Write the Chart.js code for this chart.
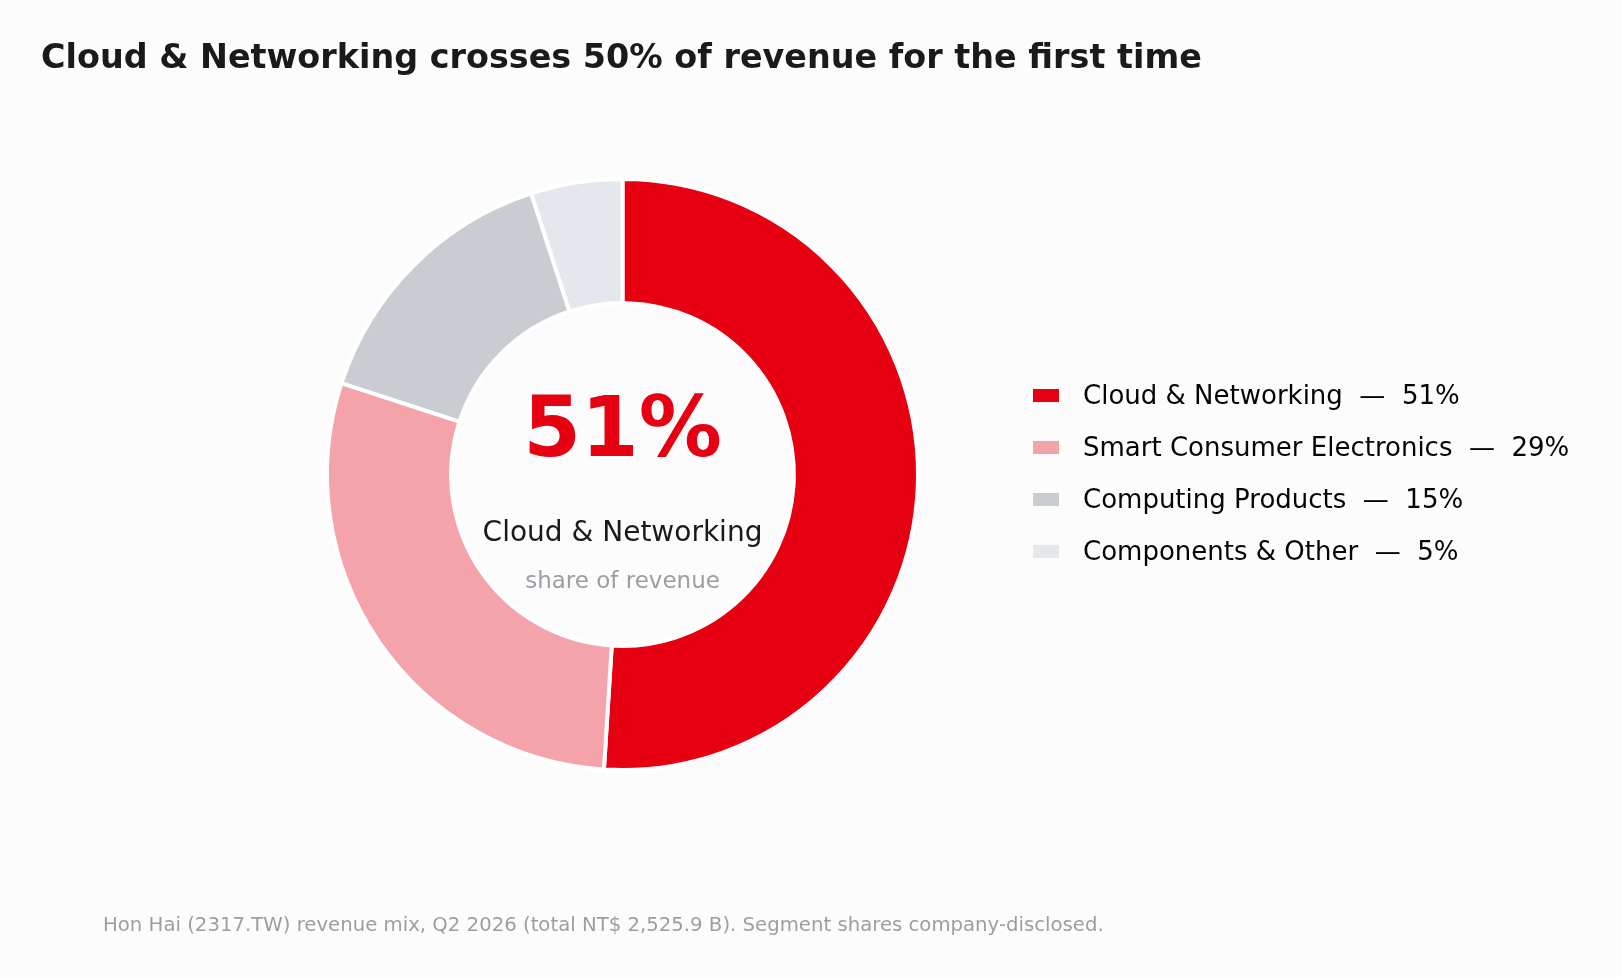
<!DOCTYPE html>
<html>
<head>
<meta charset="utf-8">
<script src="https://cdn.jsdelivr.net/npm/chart.js@4.4.1/dist/chart.umd.min.js"></script>
<style>
  html, body { margin: 0; padding: 0; background: #fcfcfc; }
  #wrap { position: relative; width: 1621px; height: 977px; }
</style>
</head>
<body>
<div id="wrap"><canvas id="mix"></canvas></div>
<script>
const segments = ["Cloud & Networking", "Smart Consumer Electronics", "Computing Products", "Components & Other"];
const shares = [51, 29, 15, 5];
const colors = ["#e60012", "#f5a3aa", "#c9ccd1", "#e4e7eb"];

const titleText = "Cloud & Networking crosses 50% of revenue for the first time";
const footText = "Hon Hai (2317.TW) revenue mix, Q2 2026 (total NT$ 2,525.9 B). Segment shares company-disclosed.";
const FONT = "'DejaVu Sans', sans-serif";

// title, centre label, legend and footnote
const decorations = {
  id: "decorations",
  beforeDraw(chart) {
    const c = chart.ctx;
    c.save();
    c.fillStyle = "#fcfcfc";
    c.fillRect(0, 0, chart.width, chart.height);
    c.restore();
  },
  afterDraw(chart) {
    const c = chart.ctx;
    const meta = chart.getDatasetMeta(0);
    const cx = meta.data[0].x, cy = meta.data[0].y;
    c.save();
    c.textBaseline = "alphabetic";

    c.fillStyle = "#1a1a1a";
    c.font = "bold 33.4px " + FONT;
    c.textAlign = "left";
    c.fillText(titleText, 41, 68);

    c.textAlign = "center";
    c.fillStyle = "#e60012";
    c.font = "bold 83px " + FONT;
    c.fillText(shares[0] + "%", cx, cy - 19);
    c.fillStyle = "#1a1a1a";
    c.font = "28px " + FONT;
    c.fillText(segments[0], cx, cy + 66);
    c.fillStyle = "#9b9ea3";
    c.font = "23px " + FONT;
    c.fillText("share of revenue", cx, cy + 113);

    c.textAlign = "left";
    c.font = "26px " + FONT;
    segments.forEach((s, i) => {
      const y = 396 + i * 52;
      c.fillStyle = colors[i];
      c.fillRect(1033, y - 7, 26, 13);
      c.fillStyle = "#050505";
      c.textBaseline = "middle";
      c.fillText(s + "  \u2014  " + shares[i] + "%", 1083, y + 1);
    });

    c.textBaseline = "alphabetic";
    c.fillStyle = "#9b9ea3";
    c.font = "19.7px " + FONT;
    c.fillText(footText, 103, 931);
    c.restore();
  }
};

new Chart(document.getElementById("mix"), {
  type: "doughnut",
  data: {
    labels: segments,
    datasets: [{
      data: shares,
      backgroundColor: colors,
      borderColor: "#ffffff",
      borderWidth: 4,
      hoverOffset: 0
    }]
  },
  options: {
    responsive: true,
    maintainAspectRatio: false,
    animation: false,
    cutout: "58%",
    rotation: 0,
    layout: {
      padding: { left: 325, right: 701, top: 177, bottom: 205 }
    },
    plugins: {
      legend: { display: false },
      tooltip: { enabled: false },
      title: { display: false }
    }
  },
  plugins: [decorations]
});
</script>
</body>
</html>
